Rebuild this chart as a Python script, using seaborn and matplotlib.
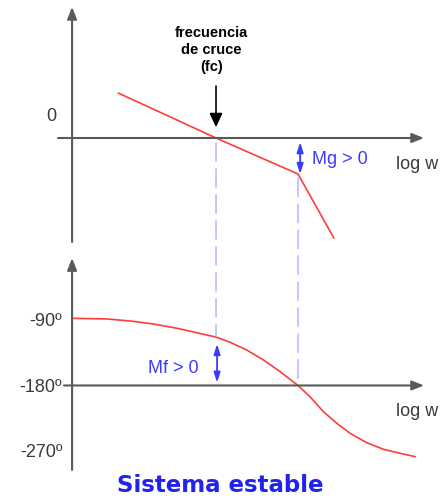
import matplotlib
matplotlib.use("Agg")
import matplotlib.pyplot as plt
import seaborn as sns
from matplotlib.patches import ConnectionPatch

# Asymptotic magnitude (dB) against log w
mag_logw = [1.31, 4.09, 6.42, 7.44]
mag_db = [15.0, 0.0, -12.0, -33.4]

# Phase (degrees) against log w
phase_logw = [0.0, 0.99, 1.65, 2.31, 2.98, 3.54, 4.09, 4.49, 4.96, 5.44, 5.91,
              6.42, 6.76, 7.14, 7.52, 7.90, 8.37, 8.85, 9.32, 9.75]
phase_deg = [-87.7, -88.6, -91.4, -95.5, -101.4, -107.5, -113.5, -120.6, -131.2,
             -145.0, -161.0, -180.0, -195.4, -216.0, -231.9, -245.7, -258.6,
             -267.7, -273.2, -277.8]

phase_ticks = [-90, -180, -270]
phase_tick_labels = ["-90º", "-180º", "-270º"]

fc = 4.09        # gain crossover frequency (log w)
f180 = 6.42      # frequency where the phase reaches -180º
mag_at_f180 = -12.0
phase_at_fc = -113.5

sns.set_theme(style="white")
plt.rcParams["font.family"] = ["Liberation Sans", "DejaVu Sans"]

RED = "#ff3c3c"
AXIS = "#5a5a5a"
BLUE = "#3b3bff"
DASH = "#b4b8ff"
TXT = "#3a3a3a"

W, H = 444, 499
fig = plt.figure(figsize=(W / 100, H / 100), dpi=100, facecolor="white")

ax_top = fig.add_axes([58 / W, 1 - 250 / H, 366 / W, 243 / H])
ax_bot = fig.add_axes([58 / W, 1 - 472 / H, 366 / W, 220 / H])

ax_top.set_xlim(-0.4, 10.0)
ax_top.set_ylim(-37.33, 43.67)
ax_bot.set_xlim(-0.4, 10.0)
ax_bot.set_ylim(-298.9, 3.4)

for ax in (ax_top, ax_bot):
    ax.set_facecolor("none")
    for s in ax.spines.values():
        s.set_visible(False)
    ax.set_xticks([])

ax_top.set_yticks([])
ax_bot.spines["left"].set_position(("data", 0))
ax_bot.set_yticks(phase_ticks, phase_tick_labels)
ax_bot.tick_params(axis="y", length=0, pad=7, labelsize=13, labelcolor=TXT)

axis_arrow = dict(arrowstyle="-|>,head_length=0.55,head_width=0.22",
                  color=AXIS, lw=1.5, shrinkA=0, shrinkB=0, mutation_scale=13)


def draw_axis(ax, start, end):
    ax.annotate("", xy=end, xytext=start, arrowprops=axis_arrow,
                annotation_clip=False)


# axes with arrowheads
draw_axis(ax_top, (-0.4, 0), (10.0, 0))
draw_axis(ax_top, (0, -34.67), (0, 43.67))
draw_axis(ax_bot, (-0.23, -180), (10.0, -180))
draw_axis(ax_bot, (0, -296), (0, -5))

# curves
sns.lineplot(x=mag_logw, y=mag_db, ax=ax_top, color=RED, lw=1.2)
sns.lineplot(x=phase_logw, y=phase_deg, ax=ax_bot, color=RED, lw=1.2)

# dashed guides linking both diagrams
for x0, y_top, y_bot, sa, sb in [(fc, 0.0, phase_at_fc, 3.5, 1),
                                  (f180, mag_at_f180, -180.0, 3, 5)]:
    con = ConnectionPatch(xyA=(x0, y_top), coordsA=ax_top.transData,
                          xyB=(x0, y_bot), coordsB=ax_bot.transData,
                          color=DASH, lw=1.1, linestyle=(0, (12, 5)),
                          shrinkA=sa, shrinkB=sb)
    fig.add_artist(con)

# margin arrows
margin_arrow = dict(arrowstyle="<|-|>,head_length=0.5,head_width=0.16",
                    color=BLUE, lw=1.3, mutation_scale=12)
ax_top.annotate("", xy=(f180 + 0.06, mag_at_f180), xytext=(f180 + 0.06, 0),
                arrowprops=dict(margin_arrow, shrinkA=3, shrinkB=0))
ax_bot.annotate("", xy=(fc + 0.03, phase_at_fc), xytext=(fc + 0.03, -180),
                arrowprops=dict(margin_arrow, shrinkA=2, shrinkB=5))

ax_top.text(6.82, -7.33, "Mg > 0", color=BLUE, fontsize=13,
            ha="left", va="center")
ax_bot.text(2.16, -156, "Mf > 0", color=BLUE, fontsize=13,
            ha="left", va="center")

# crossover marker
ax_top.annotate("", xy=(fc, 3.6), xytext=(fc, 17.3),
                arrowprops=dict(arrowstyle="-|>,head_length=0.6,head_width=0.28",
                                color="black", lw=1.2, shrinkA=0, shrinkB=0,
                                mutation_scale=14))
ax_top.text(fc - 0.13, 29.3, "frecuencia\nde cruce\n(fc)", fontsize=10.5,
            fontweight="bold", color="black", ha="center", va="center",
            linespacing=1.25)

# axis labels
ax_top.text(-0.45, 7.3, "0", fontsize=13, color=TXT, ha="right", va="center")
ax_top.text(9.2, -8.67, "log w", fontsize=13, color=TXT, ha="left", va="center")
ax_bot.text(9.2, -216, "log w", fontsize=13, color=TXT, ha="left", va="center")

fig.text(220 / W, 1 - 485 / H, "Sistema estable", color="#2222ee",
         fontsize=16.5, fontweight="bold", family="DejaVu Sans",
         ha="center", va="center")

fig.savefig("out.png", dpi=100, facecolor="white")
